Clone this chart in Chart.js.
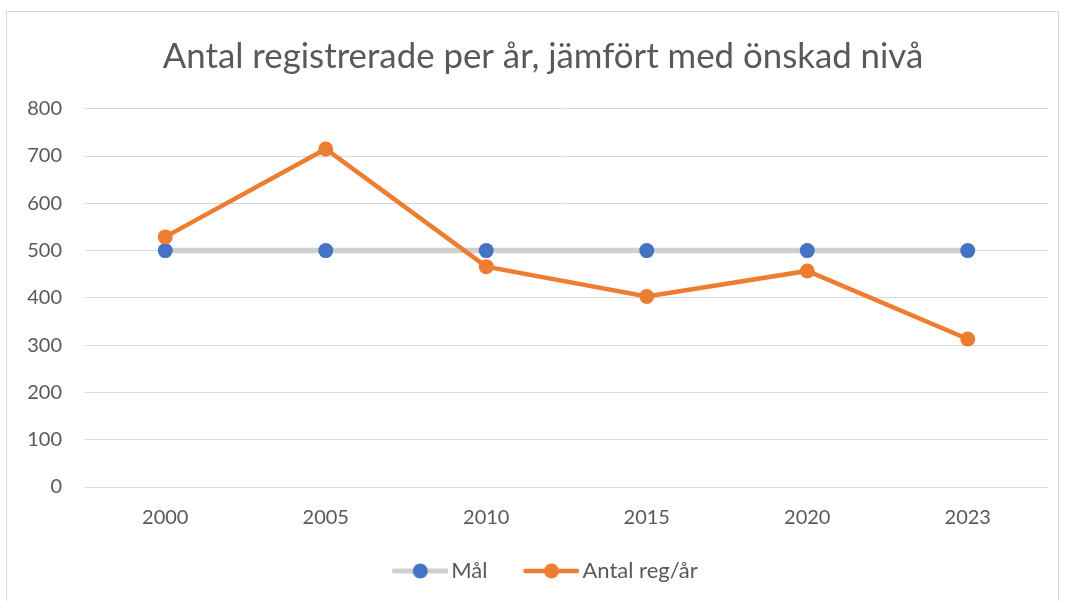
<!DOCTYPE html>
<html lang="sv">
<head>
    <meta charset="UTF-8">
    <title>Antal registrerade per år</title>
    <script src="https://cdn.jsdelivr.net/npm/chart.js"></script>
    <style>
        body {
            margin: 0;
            background-color: #ffffff;
            width: 1065px;
            height: 601px;
            overflow: hidden;
            position: relative;
        }
        #frame {
            position: absolute;
            left: 6px;
            top: 11px;
            width: 1053px;
            height: 620px;
            border: 1px solid #d9d9d9;
            box-sizing: border-box;
        }
        #wrap {
            position: absolute;
            left: 0;
            top: 0;
            width: 1065px;
            height: 601px;
        }
    </style>
</head>
<body>
    <div id="frame"></div>
    <div id="wrap"><canvas id="myChart"></canvas></div>

    <script>
        const years = ['2000', '2005', '2010', '2015', '2020', '2023'];
        const malValues = [500, 500, 500, 500, 500, 500];
        const antalValues = [529, 715, 466, 403, 457, 313];
        const yTicks = [0, 100, 200, 300, 400, 500, 600, 700, 800];

        const fontFamily = 'Lato, "Open Sans", sans-serif';
        const textColor = '#595959';

        // Legend-symbol: linje med markör i mitten
        function legendSymbol(lineColor, lineWidth, dotColor) {
            const c = document.createElement('canvas');
            c.width = 60;
            c.height = 16;
            const g = c.getContext('2d');
            g.strokeStyle = lineColor;
            g.lineWidth = lineWidth;
            g.lineCap = 'round';
            g.beginPath();
            g.moveTo(6, 8);
            g.lineTo(58, 8);
            g.stroke();
            g.fillStyle = dotColor;
            g.beginPath();
            g.arc(32, 8, 7.5, 0, Math.PI * 2);
            g.fill();
            return c;
        }

        // flytta titel och förklaring lite, som i originalet
        const shiftPlugin = {
            id: 'shiftBoxes',
            afterLayout(chart) {
                if (chart.titleBlock) {
                    chart.titleBlock.left += 9;
                    chart.titleBlock.right += 9;
                }
                if (chart.legend) {
                    chart.legend.left += 13;
                    chart.legend.right += 13;
                    chart.legend.top -= 11;
                    chart.legend.bottom -= 11;
                }
            }
        };

        document.addEventListener('DOMContentLoaded', function() {
            const ctx = document.getElementById('myChart').getContext('2d');

            const symMal = legendSymbol('#d0d0d0', 5, '#4472c4');
            const symAntal = legendSymbol('#ed7d31', 4.5, '#ed7d31');

            new Chart(ctx, {
                type: 'line',
                data: {
                    labels: years,
                    datasets: [
                        {
                            label: 'Mål',
                            data: malValues,
                            borderColor: '#d0d0d0',
                            borderWidth: 5.5,
                            pointBackgroundColor: '#4472c4',
                            pointBorderColor: '#4472c4',
                            pointRadius: 7.5,
                            pointBorderWidth: 0,
                            order: 1
                        },
                        {
                            label: 'Antal reg/år',
                            data: antalValues,
                            borderColor: '#ed7d31',
                            borderWidth: 4.5,
                            pointBackgroundColor: '#ed7d31',
                            pointBorderColor: '#ed7d31',
                            pointRadius: 7.5,
                            pointBorderWidth: 0,
                            order: 0
                        }
                    ]
                },
                plugins: [shiftPlugin],
                options: {
                    responsive: true,
                    maintainAspectRatio: false,
                    animation: false,
                    layout: {
                        padding: { left: 20, right: 17, top: 36, bottom: -2 }
                    },
                    elements: {
                        line: { tension: 0 },
                        point: { pointStyle: 'circle' }
                    },
                    plugins: {
                        title: {
                            display: true,
                            text: 'Antal registrerade per år, jämfört med önskad nivå',
                            color: textColor,
                            font: { family: fontFamily, size: 34.8, weight: 'normal' },
                            padding: { top: 0, bottom: 31 }
                        },
                        legend: {
                            position: 'bottom',
                            labels: {
                                usePointStyle: true,
                                pointStyleWidth: 44,
                                color: textColor,
                                font: { family: fontFamily, size: 22 },
                                padding: 40,
                                generateLabels: function(chart) {
                                    return chart.data.datasets.map((ds, i) => ({
                                        text: ds.label,
                                        datasetIndex: i,
                                        pointStyle: i === 0 ? symMal : symAntal,
                                        fontColor: textColor,
                                        lineWidth: 0,
                                        hidden: false
                                    }));
                                }
                            }
                        },
                        tooltip: { enabled: false }
                    },
                    scales: {
                        x: {
                            offset: true,
                            grid: { display: false },
                            border: { display: false },
                            ticks: {
                                color: textColor,
                                font: { family: fontFamily, size: 20 },
                                padding: 11
                            },
                            afterFit: function(scale) { scale.height = 44; }
                        },
                        y: {
                            min: 0,
                            max: 800,
                            afterBuildTicks: function(scale) {
                                scale.ticks = yTicks.map(v => ({ value: v }));
                            },
                            grid: { color: '#d9d9d9', lineWidth: 1, drawTicks: false },
                            border: { display: false },
                            ticks: {
                                color: textColor,
                                font: { family: fontFamily, size: 20 },
                                padding: 23
                            },
                            afterFit: function(scale) { scale.width = 65; }
                        }
                    }
                }
            });
        });
    </script>
</body>
</html>
